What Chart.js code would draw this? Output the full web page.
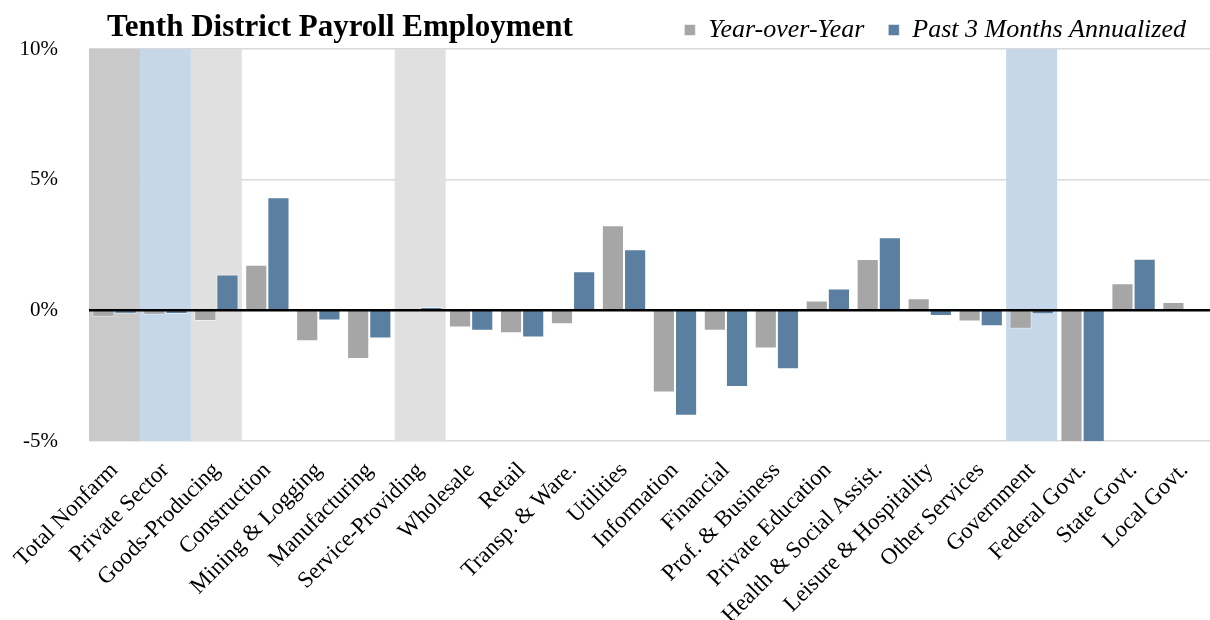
<!DOCTYPE html>
<html>
<head>
<meta charset="utf-8">
<script src="https://cdn.jsdelivr.net/npm/chart.js@4/dist/chart.umd.min.js"></script>
<style>
  body { margin: 0; background: #fff; }
  #wrap { position: relative; width: 1210px; height: 620px; }
  #title {
    position: absolute; left: 107px; top: 10px; margin: 0;
    font: bold 31px "Liberation Serif", "Times New Roman", serif;
    line-height: 1; color: #000;
  }
</style>
</head>
<body>
<div id="wrap">
  <h1 id="title">Tenth District Payroll Employment</h1>
  <canvas id="payrollChart"></canvas>
</div>
<script>
const categories = ['Total Nonfarm', 'Private Sector', 'Goods-Producing', 'Construction',
  'Mining & Logging', 'Manufacturing', 'Service-Providing', 'Wholesale', 'Retail',
  'Transp. & Ware.', 'Utilities', 'Information', 'Financial', 'Prof. & Business',
  'Private Education', 'Health & Social Assist.', 'Leisure & Hospitality',
  'Other Services', 'Government', 'Federal Govt.', 'State Govt.', 'Local Govt.'];

// percent change (Federal Govt. runs off the bottom)
const yearOverYear = [-0.25, -0.17, -0.41, 1.74, -1.18, -1.86, 0.0, -0.66, -0.88, -0.53,
  3.26, -3.14, -0.78, -1.46, 0.38, 1.96, 0.46, -0.43, -0.70, -5.9, 1.04, 0.32];
const past3MonthsAnnualized = [-0.13, -0.14, 1.37, 4.33, -0.39, -1.08, 0.13, -0.78, -1.04, 1.50,
  2.34, -4.03, -2.93, -2.25, 0.84, 2.80, -0.22, -0.61, -0.15, -6.8, 1.97, 0.0];

const yTicks = [-5, 0, 5, 10];

// shaded aggregate categories
const shadedCategories = {
  'Total Nonfarm': '#c9c9c9',
  'Private Sector': '#c5d7e8',
  'Goods-Producing': '#e0e0e0',
  'Service-Providing': '#e0e0e0',
  'Government': '#c5d7e8'
};

const serif = '"Liberation Serif", "Times New Roman", serif';

const bandsAndZeroLine = {
  id: 'bandsAndZeroLine',
  afterLayout(chart) {
    // nudge legend row down a little, the plot area stays put
    chart.legend.top += 4;
  },
  beforeDatasetsDraw(chart) {
    const {ctx, chartArea, scales: {x}} = chart;
    const half = x.width / categories.length / 2;
    ctx.save();
    categories.forEach((c, i) => {
      if (!shadedCategories[c]) return;
      const px = x.getPixelForValue(i);
      ctx.fillStyle = shadedCategories[c];
      ctx.fillRect(px - half, chartArea.top, half * 2, chartArea.bottom - chartArea.top);
    });
    ctx.restore();
  },
  afterDatasetsDraw(chart) {
    const {ctx, chartArea, scales: {y}} = chart;
    const py = y.getPixelForValue(0);
    ctx.save();
    ctx.strokeStyle = '#000';
    ctx.lineWidth = 2.5;
    ctx.beginPath();
    ctx.moveTo(chartArea.left, py);
    ctx.lineTo(chartArea.right, py);
    ctx.stroke();
    ctx.restore();
  }
};

const ctx = document.getElementById('payrollChart').getContext('2d');

new Chart(ctx, {
  type: 'bar',
  data: {
    labels: categories,
    datasets: [{
      label: 'Year-over-Year',
      data: yearOverYear,
      backgroundColor: '#a6a6a6',
      borderColor: 'rgba(255,255,255,0.5)',
      borderWidth: 1
    }, {
      label: 'Past 3 Months Annualized',
      data: past3MonthsAnnualized,
      backgroundColor: '#5a7fa0',
      borderColor: 'rgba(255,255,255,0.5)',
      borderWidth: 1
    }]
  },
  options: {
    responsive: true,
    maintainAspectRatio: false,
    animation: false,
    layout: { padding: { top: -11, left: 20, right: 0, bottom: 0 } },
    datasets: { bar: { categoryPercentage: 0.87, barPercentage: 1 } },
    plugins: {
      tooltip: { enabled: false },
      legend: {
        position: 'top',
        align: 'end',
        labels: {
          color: '#000',
          boxWidth: 11,
          boxHeight: 11,
          padding: 24,
          font: { family: serif, size: 26, style: 'italic' }
        }
      }
    },
    scales: {
      x: {
        grid: { display: false },
        border: { display: false },
        ticks: {
          autoSkip: false,
          maxRotation: 45,
          minRotation: 45,
          padding: 8,
          color: '#000',
          font: { family: serif, size: 23 }
        },
        afterFit: s => {
          s.height = 179;
          // let the first rotated label hang out to the left
          s.paddingLeft = 0;
          s.paddingRight = 0;
        }
      },
      y: {
        min: -5,
        max: 10,
        afterBuildTicks: s => { s.ticks = yTicks.map(v => ({ value: v })); },
        afterFit: s => { s.width = 69; },
        border: { display: false },
        grid: {
          drawTicks: false,
          color: c => c.tick && c.tick.value === 0 ? 'rgba(0,0,0,0)' : '#d9d9d9',
          lineWidth: 1.5
        },
        ticks: {
          padding: 31,
          color: '#000',
          font: { family: serif, size: 21 },
          callback: v => v + '%'
        }
      }
    }
  },
  plugins: [bandsAndZeroLine]
});
</script>
</body>
</html>
